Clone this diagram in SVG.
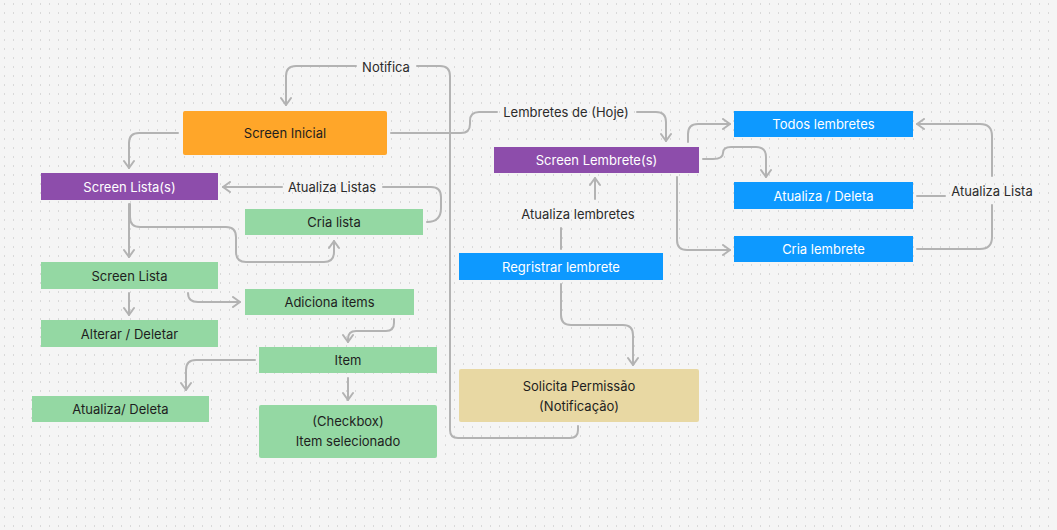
<svg xmlns="http://www.w3.org/2000/svg" width="1057" height="530" viewBox="0 0 1057 530">
<style>
.bg{fill:#f5f5f5}
.n{stroke:none}
.or{fill:#ffa629}
.pu{fill:#8d4dab}
.gr{fill:#94d8a3}
.bl{fill:#0d99ff}
.be{fill:#e8d8a3}
text{font-family:Inter,"Noto Sans","Liberation Sans",sans-serif;font-size:13px;text-anchor:middle;dominant-baseline:central}
.dk{fill:#1e1e1e}
.wh{fill:#ffffff}
.lb{fill:#2b2b2b}
.c{fill:none;stroke:#b3b3b3;stroke-width:2;stroke-linecap:round;stroke-linejoin:round}
</style>
<defs>
<pattern id="dots" width="9" height="9" patternUnits="userSpaceOnUse" x="4" y="3.5">
<rect x="0" y="0" width="1" height="1" fill="#bdbdbd"/>
</pattern>
<marker id="ah" viewBox="0 0 12 12" refX="10" refY="6" markerWidth="12" markerHeight="12" markerUnits="userSpaceOnUse" orient="auto">
<path d="M3,1 L10,6 L3,11" fill="none" stroke="#b3b3b3" stroke-width="2" stroke-linecap="round" stroke-linejoin="round"/>
</marker>
</defs>
<rect class="bg" x="0" y="0" width="1057" height="530"/>
<rect x="0" y="0" width="1057" height="530" fill="url(#dots)"/>

<g id="connectors">
<path class="c" d="M578,426 L578,430 Q578,438 570,438 L458,438 Q450,438 450,430 L450,76 Q450,66 440,66 L417,66"/>
<path class="c" d="M356,66 L296,66 Q286,66 286,76 L286,105" marker-end="url(#ah)"/>
<path class="c" d="M391,133 L461,133 Q470,133 470,124 L470,121 Q470,112 479,112 L497,112"/>
<path class="c" d="M637,112 L656,112 Q666,112 666,122 L666,141" marker-end="url(#ah)"/>
<path class="c" d="M178,133 L139,133 Q129,133 129,143 L129,168" marker-end="url(#ah)"/>
<path class="c" d="M427,222 Q441,222 441,208 L441,197 Q441,187 431,187 L383,187"/>
<path class="c" d="M282,187 L223,187" marker-end="url(#ah)"/>
<path class="c" d="M130,204 L130,217 Q130,227 140,227 L226,227 Q236,227 236,237 L236,252 Q236,262 246,262 L324,262 Q334,262 334,252 L334,241" marker-end="url(#ah)"/>
<path class="c" d="M129,204 L129,257" marker-end="url(#ah)"/>
<path class="c" d="M129,293 L129,315" marker-end="url(#ah)"/>
<path class="c" d="M188,293 Q188,302 198,302 L240,302" marker-end="url(#ah)"/>
<path class="c" d="M394,319 L394,323 Q394,331 386,331 L356,331 Q348,331 348,339 L348,342" marker-end="url(#ah)"/>
<path class="c" d="M255,360 L196,360 Q186,360 186,370 L186,390" marker-end="url(#ah)"/>
<path class="c" d="M348,378 L348,400" marker-end="url(#ah)"/>
<path class="c" d="M561,249 L561,228"/>
<path class="c" d="M595,199 L595,178" marker-end="url(#ah)"/>
<path class="c" d="M561,284 L561,315 Q561,325 571,325 L623,325 Q633,325 633,335 L633,365" marker-end="url(#ah)"/>
<path class="c" d="M688,142 L688,134 Q688,124 698,124 L730,124" marker-end="url(#ah)"/>
<path class="c" d="M703,159 L713,159 Q723,159 723,153 Q723,147 731,147 L756,147 Q766,147 766,157 L766,177" marker-end="url(#ah)"/>
<path class="c" d="M677,177 L677,240 Q677,250 687,250 L730,250" marker-end="url(#ah)"/>
<path class="c" d="M917,249 L980,249 Q992,249 992,237 L992,205"/>
<path class="c" d="M917,196 L945,196"/>
<path class="c" d="M992,176 L992,136 Q992,124 980,124 L917,124" marker-end="url(#ah)"/>
<text class="lb" x="386" y="67">Notifica</text>
<text class="lb" x="566" y="112">Lembretes de (Hoje)</text>
<text class="lb" x="332" y="187">Atualiza Listas</text>
<text class="lb" x="578" y="214">Atualiza lembretes</text>
<text class="lb" x="992" y="191">Atualiza Lista</text>
</g>

<g id="screen-inicial"><rect class="n or" x="183" y="111" width="204" height="44" rx="2"/><text class="dk" x="285" y="133">Screen Inicial</text></g>
<g id="screen-listas"><rect class="n pu" x="41" y="173" width="177" height="27"/><text class="wh" x="129.5" y="186.5">Screen Lista(s)</text></g>
<g id="cria-lista"><rect class="n gr" x="245" y="209" width="178" height="26"/><text class="dk" x="334" y="222">Cria lista</text></g>
<g id="screen-lista"><rect class="n gr" x="41" y="262" width="177" height="27"/><text class="dk" x="129.5" y="275.5">Screen Lista</text></g>
<g id="alterar-deletar"><rect class="n gr" x="41" y="320" width="177" height="27"/><text class="dk" x="129.5" y="333.5">Alterar / Deletar</text></g>
<g id="adiciona-items"><rect class="n gr" x="245" y="289" width="169" height="26"/><text class="dk" x="329.5" y="302">Adiciona items</text></g>
<g id="item"><rect class="n gr" x="259" y="347" width="178" height="26"/><text class="dk" x="348" y="360">Item</text></g>
<g id="atualiza-deleta-item"><rect class="n gr" x="32" y="396" width="177" height="26"/><text class="dk" x="120.5" y="409">Atualiza/ Deleta</text></g>
<g id="checkbox"><rect class="n gr" x="259" y="405" width="178" height="53" rx="2"/><text class="dk" x="348" y="421">(Checkbox)</text><text class="dk" x="348" y="441">Item selecionado</text></g>
<g id="screen-lembretes"><rect class="n pu" x="494" y="147" width="205" height="26"/><text class="wh" x="596.5" y="160">Screen Lembrete(s)</text></g>
<g id="registrar-lembrete"><rect class="n bl" x="459" y="253" width="204" height="27"/><text class="wh" x="561" y="266.5">Regristrar lembrete</text></g>
<g id="solicita-permissao"><rect class="n be" x="459" y="369" width="240" height="53" rx="2"/><text class="dk" x="579" y="386">Solicita Permissão</text><text class="dk" x="579" y="406">(Notificação)</text></g>
<g id="todos-lembretes"><rect class="n bl" x="734" y="111" width="179" height="26"/><text class="wh" x="823.5" y="124">Todos lembretes</text></g>
<g id="atualiza-deleta-lembrete"><rect class="n bl" x="734" y="182" width="179" height="27"/><text class="wh" x="823.5" y="195.5">Atualiza / Deleta</text></g>
<g id="cria-lembrete"><rect class="n bl" x="734" y="236" width="179" height="26"/><text class="wh" x="823.5" y="249">Cria lembrete</text></g>
</svg>
